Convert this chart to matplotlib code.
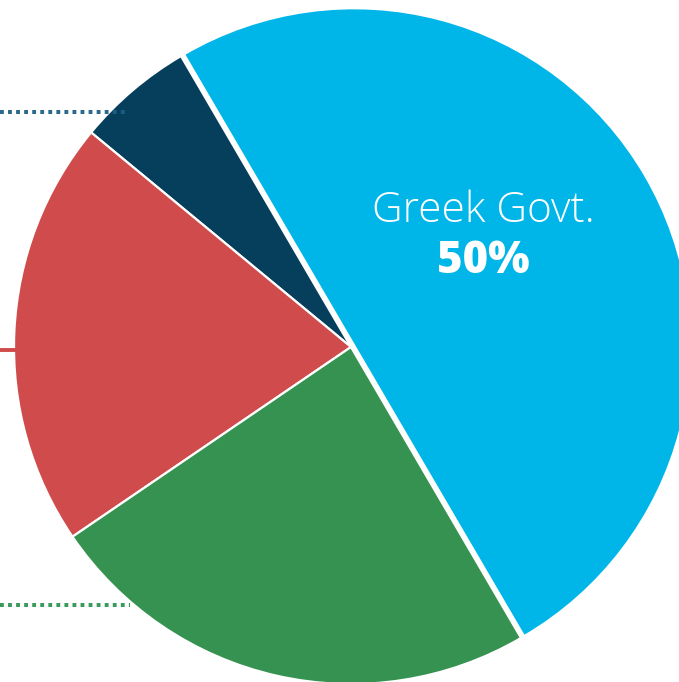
import matplotlib.pyplot as plt

W, H = 679, 682

labels = ['Greek Govt.', 'Other 1', 'Other 2', 'Other 3']
shares = [50.0, 5.6, 20.5, 23.9]
colors = ['#00B6E8', '#053F5C', '#D04B4B', '#359250']

# label shown inside the big slice
main_label = 'Greek Govt.'
main_pct = '50%'


def to_y(py):
    # pixel row (from top) -> data y
    return H - py


fig = plt.figure(figsize=(W / 100, H / 100), dpi=100)
ax = fig.add_axes([0, 0, 1, 1])

# explode is in data units here (pixels), pie does not scale it by radius
wedges, _ = ax.pie(shares, colors=colors, startangle=-59.7, counterclock=True,
                   center=(351, to_y(347)), radius=337,
                   explode=[3.5, 0, 0, 0],
                   wedgeprops=dict(edgecolor='white', linewidth=1.6))

# leader lines going out to the (cropped) labels on the left
ax.plot([0, 128], [to_y(112), to_y(112)], color='#1F6088', lw=2.9,
        linestyle=(0, (0.95, 1.05)), solid_capstyle='butt', alpha=0.95)
ax.plot([0, 16], [to_y(350), to_y(350)], color='#D04B4B', lw=2.8,
        solid_capstyle='butt')
ax.plot([0, 130], [to_y(605), to_y(605)], color='#3A9A5B', lw=2.9,
        linestyle=(0, (0.95, 1.05)), solid_capstyle='butt')

ax.text(483, to_y(222), main_label, color='white', fontsize=30.5,
        fontfamily='Open Sans', fontweight='light', ha='center', va='baseline')
ax.text(483, to_y(273), main_pct, color='white', fontsize=31.5,
        fontfamily='Open Sans', fontweight='heavy', ha='center', va='baseline')

ax.set_xlim(0, W)
ax.set_ylim(0, H)
ax.set_aspect('auto')
ax.axis('off')

fig.savefig('out.png', dpi=100)
